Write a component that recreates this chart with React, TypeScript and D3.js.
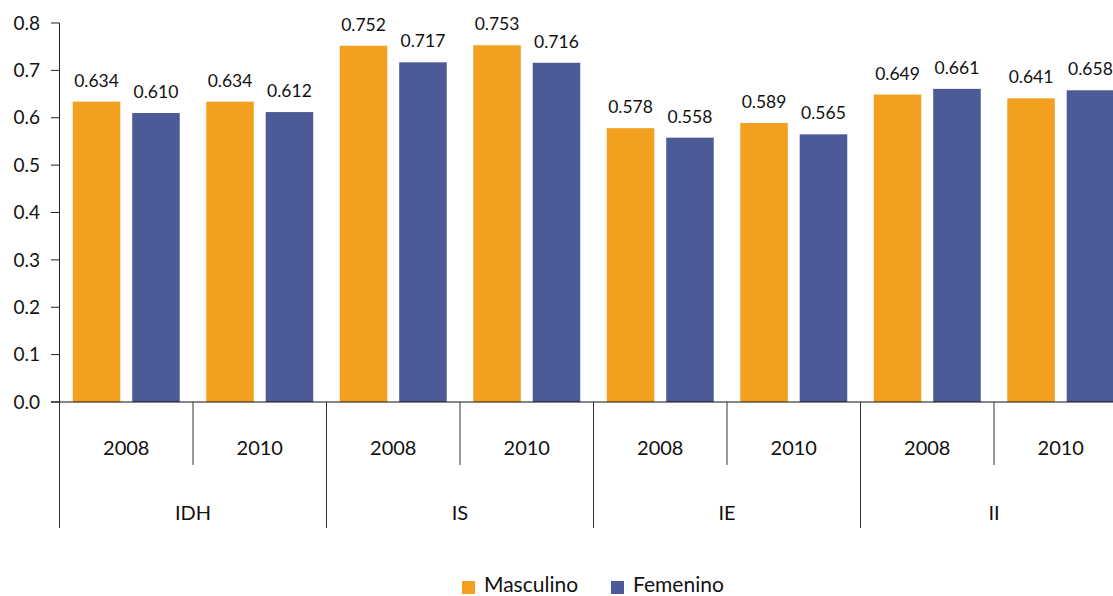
import React from "react";
import * as d3 from "d3";

const groups = ["IDH", "IS", "IE", "II"];
const years = ["2008", "2010"];
const series = ["Masculino", "Femenino"];
const masculino = [0.634, 0.634, 0.752, 0.753, 0.578, 0.589, 0.649, 0.641];
const femenino = [0.61, 0.612, 0.717, 0.716, 0.558, 0.565, 0.661, 0.658];
const yTicks = [0, 0.1, 0.2, 0.3, 0.4, 0.5, 0.6, 0.7, 0.8];
const colors = ["#F3A021", "#4C5B97"];

const W = 1113;
const H = 596;
const FONT = "Lato, 'Open Sans', sans-serif";

export default function App() {
  const left = 59.5;
  const groupW = 267;
  const cats = groups.flatMap((g) => years.map((yr) => `${g}-${yr}`));
  const x0 = d3
    .scaleBand<string>()
    .domain(cats)
    .range([left, left + groupW * groups.length])
    .padding(0);
  const xg = d3
    .scaleBand<string>()
    .domain(groups)
    .range([left, left + groupW * groups.length])
    .padding(0);
  const x1 = d3
    .scaleBand<string>()
    .domain(series)
    .range([0, x0.bandwidth()])
    .paddingInner(0.2)
    .paddingOuter(0.223);
  const y = d3.scaleLinear().domain([0, 0.8]).range([402, 23]);
  const values = [masculino, femenino];

  return (
    <svg
      width={W}
      height={H}
      style={{ position: "absolute", left: 0, top: 0, background: "#fff" }}
      fontFamily={FONT}
    >
      {/* bars */}
      {cats.map((c, i) =>
        series.map((s, si) => {
          const v = values[si][i];
          const bx = (x0(c) as number) + (x1(s) as number);
          return (
            <g key={c + s}>
              <rect
                x={bx}
                y={y(v)}
                width={x1.bandwidth()}
                height={y(0) - y(v)}
                fill={colors[si]}
              />
              <text
                x={bx + x1.bandwidth() / 2}
                y={y(v) - 15}
                textAnchor="middle"
                fontSize={17.5}
                fill="#111"
              >
                {v.toFixed(3)}
              </text>
            </g>
          );
        })
      )}
      {/* y axis */}
      <line x1={left} x2={left} y1={y(0.8)} y2={y(0)} stroke="#222" strokeWidth={1} />
      {yTicks.map((t) => (
        <g key={t}>
          <line x1={51} x2={left} y1={y(t)} y2={y(t)} stroke="#222" strokeWidth={1} />
          <text
            x={40}
            y={y(t)}
            dy="0.35em"
            textAnchor="end"
            fontSize={19}
            fill="#111"
          >
            {t.toFixed(1)}
          </text>
        </g>
      ))}
      {/* x axis */}
      <line x1={51} x2={W} y1={y(0)} y2={y(0)} stroke="#111" strokeWidth={1.2} />
      {cats.map((c, i) => (
        <g key={c}>
          {i % 2 === 1 && (
            <line
              x1={x0(c)}
              x2={x0(c)}
              y1={y(0)}
              y2={465}
              stroke="#333"
              strokeWidth={1}
            />
          )}
          <text
            x={(x0(c) as number) + x0.bandwidth() / 2}
            y={448}
            dy="0.35em"
            textAnchor="middle"
            fontSize={20}
            fill="#111"
          >
            {years[i % 2]}
          </text>
        </g>
      ))}
      {groups.map((g) => (
        <g key={g}>
          <line
            x1={xg(g)}
            x2={xg(g)}
            y1={y(0)}
            y2={528}
            stroke="#333"
            strokeWidth={1}
          />
          <text
            x={(xg(g) as number) + xg.bandwidth() / 2}
            y={513}
            dy="0.35em"
            textAnchor="middle"
            fontSize={20}
            fill="#111"
          >
            {g}
          </text>
        </g>
      ))}
      {/* legend */}
      {series.map((s, si) => {
        const lx = [462, 611][si];
        return (
          <g key={s}>
            <rect x={lx} y={581} width={13} height={13} fill={colors[si]} />
            <text x={lx + 22} y={592} fontSize={21} fill="#111">
              {s}
            </text>
          </g>
        );
      })}
    </svg>
  );
}
